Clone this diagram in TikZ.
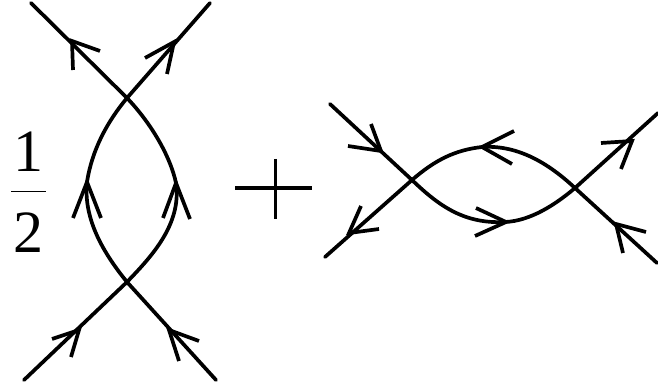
\documentclass[tikz,border=0pt]{standalone}
\usepackage{fontspec}
\setmainfont{Liberation Serif}
\tikzset{
  fline/.style={line width=3.7pt,black,line cap=round},
  barb/.style={line width=3.7pt,black,line join=miter,line cap=butt},
  digit/.style={font=\fontsize{60}{60}\selectfont,inner sep=0pt,anchor=center}
}
\newcommand{\tipmark}[3]{\draw[barb] #1 -- #2 -- #3;}
\begin{document}
\begin{tikzpicture}[x=1pt,y=-1pt]
\useasboundingbox (0,0) rectangle (658,387);
% left diagram
\coordinate (lt) at (127,98);
\coordinate (lb) at (127,282);
\draw[fline] (31,3) -- (lt) .. controls (150,122) and (170,155) .. (176,183)
  .. controls (182,225) and (150,258) .. (lb) -- (216,380);
\draw[fline] (210,3) -- (lt) .. controls (107,122) and (92,150) .. (87,182)
  .. controls (83,220) and (105,255) .. (lb) -- (24,380);
\tipmark{(100,51)}{(72,41)}{(73,70)}
\tipmark{(145,58)}{(174,42)}{(167,74)}
\tipmark{(73,218)}{(87,182)}{(101,218)}
\tipmark{(163,218)}{(176,183)}{(190,219)}
\tipmark{(52,339)}{(79,330)}{(71,357)}
\tipmark{(199,341)}{(169,330)}{(179,361)}
% one half
\node[digit] (one) at (28,152) {1};
\node[digit] (two) at (28,233) {2};
\draw[line width=1.8pt] (11,191.5) -- (46,191.5);
% plus
\draw[line width=3.8pt] (235,188) -- (312,188);
\draw[line width=3.8pt] (275.5,159) -- (275.5,219);
% right diagram
\coordinate (rl) at (412,180);
\coordinate (rr) at (575,188);
\draw[fline] (330,104) -- (rl) .. controls (440,207) and (465,224) .. (505,222)
  .. controls (530,221) and (555,205) .. (rr) -- (658,113);
\draw[fline] (657,263) -- (rr) .. controls (545,160) and (515,145) .. (482,147)
  .. controls (455,150) and (435,160) .. (rl) -- (325,257);
\tipmark{(371,124)}{(381,151)}{(348,146)}
\tipmark{(476,208)}{(506,222)}{(475,236)}
\tipmark{(601,143)}{(632,141)}{(621,169)}
\tipmark{(646,232)}{(616,224)}{(623,253)}
\tipmark{(514,131)}{(482,147)}{(512,164)}
\tipmark{(361,206)}{(349,233)}{(379,229)}
\end{tikzpicture}
\end{document}
